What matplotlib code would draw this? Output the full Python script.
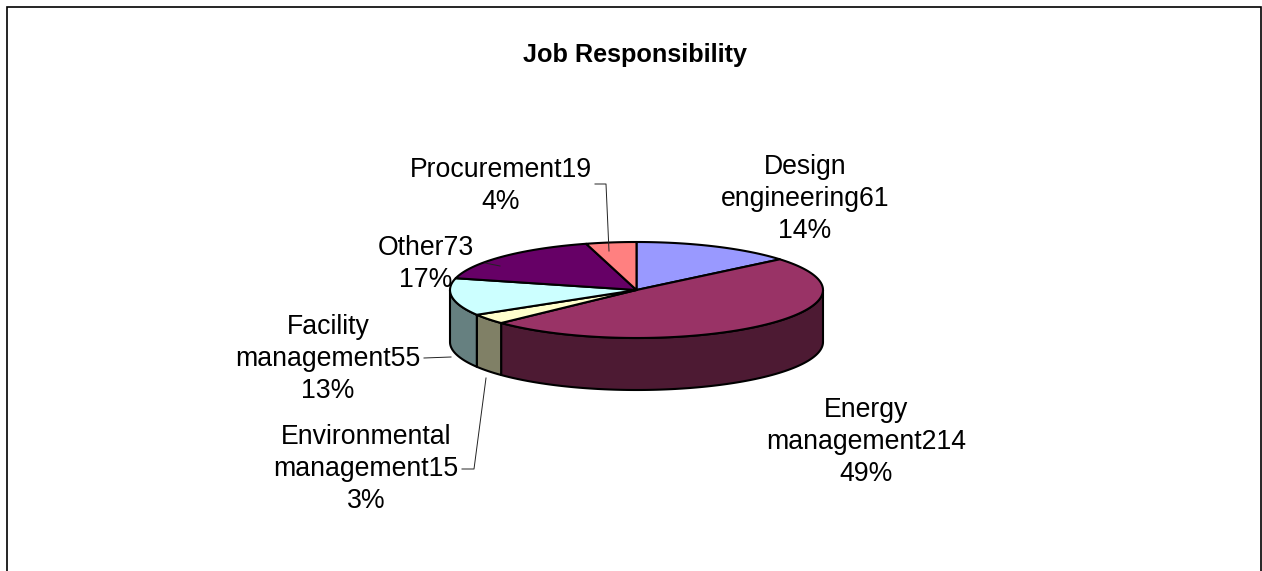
import numpy as np
import matplotlib
matplotlib.use('Agg')
from matplotlib import pyplot as plt
from matplotlib.patches import Polygon

plt.rcParams['font.family'] = ['Liberation Sans', 'DejaVu Sans']

# chart values, clockwise from 12 o'clock
categories = ['Design engineering', 'Energy management', 'Environmental management',
              'Facility management', 'Other', 'Procurement']
counts = [61, 214, 15, 55, 73, 19]
percents = [14, 49, 3, 13, 17, 4]
top_colors = ['#9999FF', '#993366', '#FFFFCC', '#CCFFFF', '#660066', '#FF8080']
side_colors = ['#4D4D80', '#4D1A33', '#808066', '#668080', '#330033', '#804040']
title = 'Job Responsibility'

# label line breaks and pixel positions (centre x, centre y)
label_wraps = ['Design\nengineering', 'Energy\nmanagement', 'Environmental\nmanagement',
               'Facility\nmanagement', 'Other', 'Procurement']
label_pos = [(805, 199), (866, 442), (366, 469), (328, 359), (426, 264), (501, 186)]

# leader lines in pixels
leaders = [[(595, 184), (606, 184), (609, 251)],
           [(424, 358), (451, 357)],
           [(462, 469), (474, 469), (486, 378)],
           [(485, 263), (500, 266)]]

cx, cy, rx, ry, depth = 636.5, 290, 186.5, 48, 52
edge_lw = 1.5

W, H = 1262, 571
fig = plt.figure(figsize=(W / 100, H / 100), dpi=100)
ax = fig.add_axes([0, 0, 1, 1])
ax.set_xlim(0, W)
ax.set_ylim(H, 0)
ax.axis('off')

# chart frame, bottom edge is cut off in the reference
ax.plot([7, 7, 1261, 1261], [H, 7, 7, H], c='#000000', lw=1.2, solid_joinstyle='miter')


def rim(a0, a1, n=120):
    t = np.radians(np.linspace(a0, a1, n))
    return cx + rx * np.sin(t), cy - ry * np.cos(t)


fractions = np.array(counts) / sum(counts)
edges = np.concatenate([[0], np.cumsum(fractions) * 360])

# walls of the front half
for i in range(len(counts)):
    a0, a1 = max(edges[i], 90), min(edges[i + 1], 270)
    if a1 <= a0:
        continue
    x, y = rim(a0, a1)
    pts = np.r_[np.c_[x, y], np.c_[x, y + depth][::-1]]
    ax.add_patch(Polygon(pts, closed=True, fc=side_colors[i], ec='#000000',
                         lw=edge_lw, joinstyle='round', zorder=2))

# top faces
for i in range(len(counts)):
    x, y = rim(edges[i], edges[i + 1])
    pts = np.r_[[[cx, cy]], np.c_[x, y]]
    ax.add_patch(Polygon(pts, closed=True, fc=top_colors[i], ec='#000000',
                         lw=edge_lw, joinstyle='round', zorder=3))

for line in leaders:
    xs, ys = zip(*line)
    ax.plot(xs, ys, c='#222222', lw=0.7, zorder=4)

ax.text(635, 55, title, ha='center', va='center', fontsize=18.2, fontweight='bold')

for i in range(len(counts)):
    s = '%s%d\n%d%%' % (label_wraps[i], counts[i], percents[i])
    ax.text(label_pos[i][0], label_pos[i][1], s, ha='center', va='center',
            fontsize=19.2, linespacing=1.32, color='#000000', zorder=5)

fig.savefig('out.png', dpi=100)
